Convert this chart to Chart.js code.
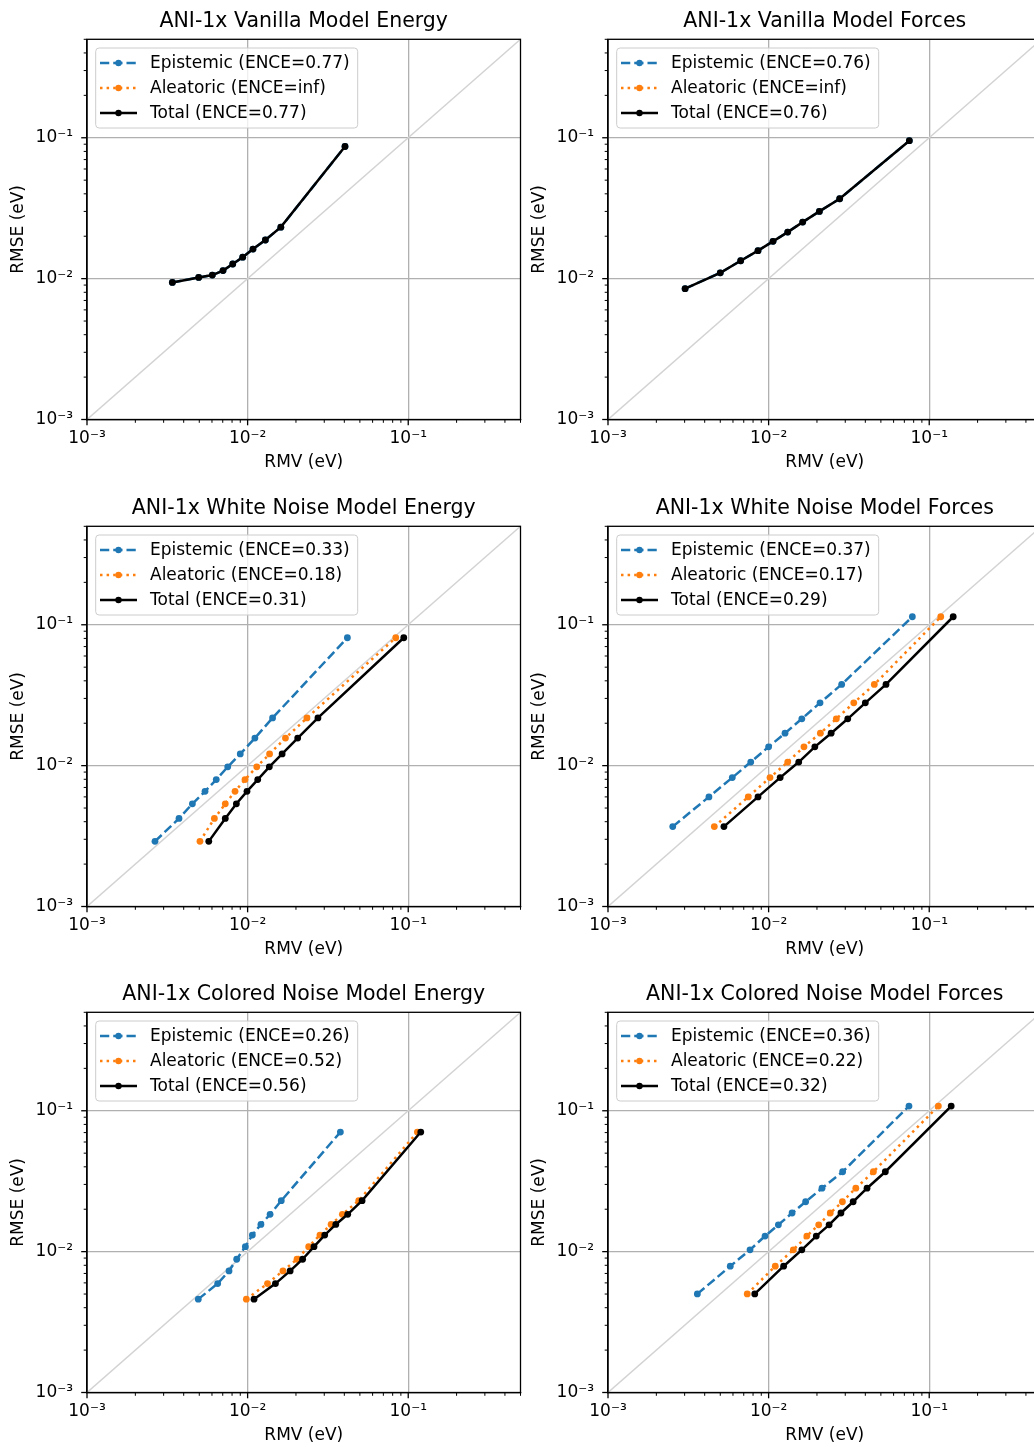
<!DOCTYPE html>
<html>
<head>
<meta charset="utf-8">
<script src="https://cdn.jsdelivr.net/npm/chart.js@4.4.0/dist/chart.umd.min.js"></script>
<style>
  html, body { margin: 0; padding: 0; background: #fff; overflow: hidden; }
  #page { position: relative; width: 1034px; height: 1447px; overflow: hidden; background: #fff; }
  #page canvas { position: absolute; }
</style>
</head>
<body>
<div id="page"></div>
<script>
// panel titles and ENCE values shown in the legends
const panelTitles = [
  "ANI-1x Vanilla Model Energy", "ANI-1x Vanilla Model Forces",
  "ANI-1x White Noise Model Energy", "ANI-1x White Noise Model Forces",
  "ANI-1x Colored Noise Model Energy", "ANI-1x Colored Noise Model Forces",
]
const epiEnce = ["0.77", "0.76", "0.33", "0.37", "0.26", "0.36"]
const aleEnce = ["inf", "inf", "0.18", "0.17", "0.52", "0.22"]
const totEnce = ["0.77", "0.76", "0.31", "0.29", "0.56", "0.32"]

// axis range and decade labels
const axisMin = 0.001
const axisMax = 0.5
const decadeTicks = [0.001, 0.01, 0.1]
const decadeLabels = ["10⁻³", "10⁻²", "10⁻¹"]

// RMSE per bin (y) and RMV per bin (x)
const vanillaEnergyRmse = [0.0094, 0.0102, 0.0106, 0.0114, 0.0127, 0.0142, 0.0162, 0.0188, 0.0232, 0.0867]
const vanillaEnergyEpiRmv = [0.0034, 0.00496, 0.00603, 0.00703, 0.00808, 0.00932, 0.0108, 0.0129, 0.0161, 0.0404]
const vanillaEnergyAleRmv = []
const vanillaEnergyTotRmv = [0.0034, 0.00496, 0.00603, 0.00703, 0.00808, 0.00932, 0.0108, 0.0129, 0.0161, 0.0404]

const vanillaForcesRmse = [0.00849, 0.0110, 0.0134, 0.0158, 0.0184, 0.0214, 0.0252, 0.0300, 0.0369, 0.0953]
const vanillaForcesEpiRmv = [0.00302, 0.0050, 0.0067, 0.00859, 0.01065, 0.01315, 0.0163, 0.0207, 0.0277, 0.0752]
const vanillaForcesAleRmv = []
const vanillaForcesTotRmv = [0.00302, 0.0050, 0.0067, 0.00859, 0.01065, 0.01315, 0.0163, 0.0207, 0.0277, 0.0752]

const whiteEnergyRmse = [0.0029, 0.00422, 0.00536, 0.00657, 0.00796, 0.0098, 0.0121, 0.0157, 0.0218, 0.0809]
const whiteEnergyEpiRmv = [0.00265, 0.00374, 0.00453, 0.00543, 0.00638, 0.00752, 0.0090, 0.0111, 0.0143, 0.0418]
const whiteEnergyAleRmv = [0.00505, 0.00621, 0.00726, 0.00835, 0.00963, 0.0114, 0.0137, 0.0172, 0.0234, 0.0836]
const whiteEnergyTotRmv = [0.00573, 0.00726, 0.00851, 0.00991, 0.01156, 0.01365, 0.0164, 0.0205, 0.0274, 0.0938]

const whiteForcesRmse = [0.00369, 0.0060, 0.00822, 0.0106, 0.0136, 0.0170, 0.0215, 0.0279, 0.0377, 0.114]
const whiteForcesEpiRmv = [0.00253, 0.00425, 0.00594, 0.00774, 0.0100, 0.01265, 0.0161, 0.0209, 0.0285, 0.0785]
const whiteForcesAleRmv = [0.00459, 0.00747, 0.0102, 0.01315, 0.0166, 0.0210, 0.0264, 0.0339, 0.0455, 0.118]
const whiteForcesTotRmv = [0.00527, 0.00859, 0.0118, 0.0154, 0.0194, 0.0245, 0.0311, 0.0400, 0.0538, 0.141]

const coloredEnergyRmse = [0.0046, 0.00593, 0.0073, 0.00883, 0.01085, 0.0131, 0.0156, 0.0184, 0.0230, 0.0706]
const coloredEnergyEpiRmv = [0.00493, 0.00651, 0.00766, 0.00855, 0.00968, 0.0107, 0.0121, 0.0138, 0.0162, 0.0378]
const coloredEnergyAleRmv = [0.00982, 0.0133, 0.0166, 0.0203, 0.0240, 0.0282, 0.0331, 0.0389, 0.0492, 0.114]
const coloredEnergyTotRmv = [0.01096, 0.0149, 0.0184, 0.0220, 0.0259, 0.0302, 0.0354, 0.0420, 0.0516, 0.1197]

const coloredForcesRmse = [0.00501, 0.00788, 0.0103, 0.0129, 0.0155, 0.0188, 0.0226, 0.0282, 0.0369, 0.108]
const coloredForcesEpiRmv = [0.0036, 0.00577, 0.00766, 0.0095, 0.0115, 0.0140, 0.0170, 0.0215, 0.0289, 0.0748]
const coloredForcesAleRmv = [0.00736, 0.0110, 0.01425, 0.0173, 0.0205, 0.0242, 0.0288, 0.0349, 0.0449, 0.114]
const coloredForcesTotRmv = [0.0082, 0.0124, 0.0161, 0.0198, 0.0238, 0.0282, 0.0336, 0.0410, 0.0533, 0.137]

const panels = [
  [vanillaEnergyRmse, vanillaEnergyEpiRmv, vanillaEnergyAleRmv, vanillaEnergyTotRmv],
  [vanillaForcesRmse, vanillaForcesEpiRmv, vanillaForcesAleRmv, vanillaForcesTotRmv],
  [whiteEnergyRmse, whiteEnergyEpiRmv, whiteEnergyAleRmv, whiteEnergyTotRmv],
  [whiteForcesRmse, whiteForcesEpiRmv, whiteForcesAleRmv, whiteForcesTotRmv],
  [coloredEnergyRmse, coloredEnergyEpiRmv, coloredEnergyAleRmv, coloredEnergyTotRmv],
  [coloredForcesRmse, coloredForcesEpiRmv, coloredForcesAleRmv, coloredForcesTotRmv],
]

Chart.defaults.font.family = "'DejaVu Sans', sans-serif"
Chart.defaults.font.size = 17
Chart.defaults.color = "#000"

// major + minor log ticks between the axis limits
const tickValues = []
for (let e = -3; e <= -1; e++) {
  for (let m = 1; m <= 9; m++) {
    const v = m * Math.pow(10, e)
    if (v <= axisMax * 1.0001) tickValues.push(v)
  }
}
const decadeIndex = (v) => decadeTicks.findIndex((d) => Math.abs(v / d - 1) < 1e-6)

const points = (xs, ys) => xs.map((x, i) => ({ x: x, y: ys[i] }))

// tick marks, top/right spines and the matplotlib-style legend
const framePlugin = {
  id: "frame",
  afterDraw(chart) {
    const { ctx, chartArea: a } = chart
    const xs = chart.scales.x
    const ys = chart.scales.y
    ctx.save()
    ctx.strokeStyle = "#000"
    tickValues.forEach((v) => {
      const major = decadeIndex(v) >= 0
      const len = major ? 5.8 : 3.3
      ctx.lineWidth = major ? 1.3 : 1
      const px = xs.getPixelForValue(v)
      ctx.beginPath()
      ctx.moveTo(px, a.bottom)
      ctx.lineTo(px, a.bottom + len)
      ctx.stroke()
      const py = ys.getPixelForValue(v)
      ctx.beginPath()
      ctx.moveTo(a.left, py)
      ctx.lineTo(a.left - len, py)
      ctx.stroke()
    })
    ctx.lineWidth = 1.3
    ctx.strokeRect(a.left, a.top, a.right - a.left, a.bottom - a.top)

    // legend
    const items = chart.data.datasets.filter((d) => d.label)
    ctx.font = "17px 'DejaVu Sans'"
    const textW = Math.max(...items.map((d) => ctx.measureText(d.label).width))
    const lx = a.left + 8.7
    const ly = a.top + 8.7
    const w = 54.3 + textW + 8
    const h = 80
    ctx.beginPath()
    ctx.roundRect(lx, ly, w, h, 3.4)
    ctx.fillStyle = "rgba(255,255,255,0.8)"
    ctx.fill()
    ctx.strokeStyle = "#cccccc"
    ctx.lineWidth = 1
    ctx.stroke()
    items.forEach((d, k) => {
      const cy = ly + 15 + k * 25
      ctx.setLineDash(d.borderDash || [])
      ctx.strokeStyle = d.borderColor
      ctx.lineWidth = d.borderWidth
      ctx.beginPath()
      ctx.moveTo(lx + 4.3, cy)
      ctx.lineTo(lx + 41.3, cy)
      ctx.stroke()
      ctx.setLineDash([])
      ctx.fillStyle = d.borderColor
      ctx.beginPath()
      ctx.arc(lx + 22.8, cy, 3.2, 0, Math.PI * 2)
      ctx.fill()
      ctx.fillStyle = "#000"
      ctx.textAlign = "left"
      ctx.textBaseline = "middle"
      ctx.fillText(d.label, lx + 54.3, cy + 0.8)
    })
    ctx.restore()
  },
}

function logAxis(title, isX) {
  return {
    type: "logarithmic",
    min: axisMin,
    max: axisMax,
    afterBuildTicks: (s) => {
      s.ticks = tickValues.map((v) => ({ value: v }))
    },
    afterFit: (s) => {
      if (isX) s.height = 67.5
      else s.width = 87
    },
    ticks: {
      autoSkip: false,
      maxRotation: 0,
      minRotation: 0,
      padding: isX ? 9 : 14,
      color: "#000",
      font: { size: 17 },
      callback: (v) => {
        const i = decadeIndex(v)
        return i >= 0 ? decadeLabels[i] : ""
      },
    },
    grid: {
      drawTicks: false,
      lineWidth: 1.3,
      color: (c) => (c.tick && decadeIndex(c.tick.value) >= 0 ? "#b0b0b0" : "rgba(0,0,0,0)"),
    },
    border: { display: true, color: "#000", width: 1.3 },
    title: {
      display: true,
      text: title,
      color: "#000",
      font: { size: 17 },
      padding: isX ? { top: 0, bottom: 13.8 } : { top: 8, bottom: 0 },
    },
  }
}

const page = document.getElementById("page")

panels.forEach((p, i) => {
  const [rmse, epi, ale, tot] = p
  const col = i % 2
  const row = Math.floor(i / 2)

  const canvas = document.createElement("canvas")
  canvas.width = 540
  canvas.height = 487
  canvas.style.left = col * 521 + "px"
  canvas.style.top = Math.round(row * 486.7) + "px"
  page.appendChild(canvas)

  new Chart(canvas.getContext("2d"), {
    type: "scatter",
    data: {
      datasets: [
        {
          label: "Epistemic (ENCE=" + epiEnce[i] + ")",
          data: points(epi, rmse),
          showLine: true,
          borderColor: "#1f77b4",
          backgroundColor: "#1f77b4",
          borderWidth: 2.5,
          borderDash: [9.25, 4],
          pointRadius: 3.4,
          pointBorderWidth: 0,
          order: 2,
        },
        {
          label: "Aleatoric (ENCE=" + aleEnce[i] + ")",
          data: points(ale, rmse),
          showLine: true,
          borderColor: "#ff7f0e",
          backgroundColor: "#ff7f0e",
          borderWidth: 2.5,
          borderDash: [2.5, 4.1],
          pointRadius: 3.4,
          pointBorderWidth: 0,
          order: 1,
        },
        {
          label: "Total (ENCE=" + totEnce[i] + ")",
          data: points(tot, rmse),
          showLine: true,
          borderColor: "#000000",
          backgroundColor: "#000000",
          borderWidth: 2.5,
          pointRadius: 3.4,
          pointBorderWidth: 0,
          order: 0,
        },
        {
          // y = x reference line across the axis range
          data: [{ x: axisMin, y: axisMin }, { x: axisMax, y: axisMax }],
          showLine: true,
          borderColor: "#d3d3d3",
          borderWidth: 1.5,
          pointRadius: 0,
          order: 3,
        },
      ],
    },
    options: {
      responsive: false,
      animation: false,
      events: [],
      layout: { padding: { left: 0, right: 19.5, top: 0, bottom: 0 } },
      scales: {
        x: logAxis("RMV (eV)", true),
        y: logAxis("RMSE (eV)", false),
      },
      plugins: {
        legend: { display: false },
        tooltip: { enabled: false },
        title: {
          display: true,
          text: panelTitles[i],
          fullSize: false,
          color: "#000",
          font: { size: 20.5, weight: "normal", lineHeight: 1.2 },
          padding: { top: 9.7, bottom: 5 },
        },
      },
    },
    plugins: [framePlugin],
  })
})
</script>
</body>
</html>
